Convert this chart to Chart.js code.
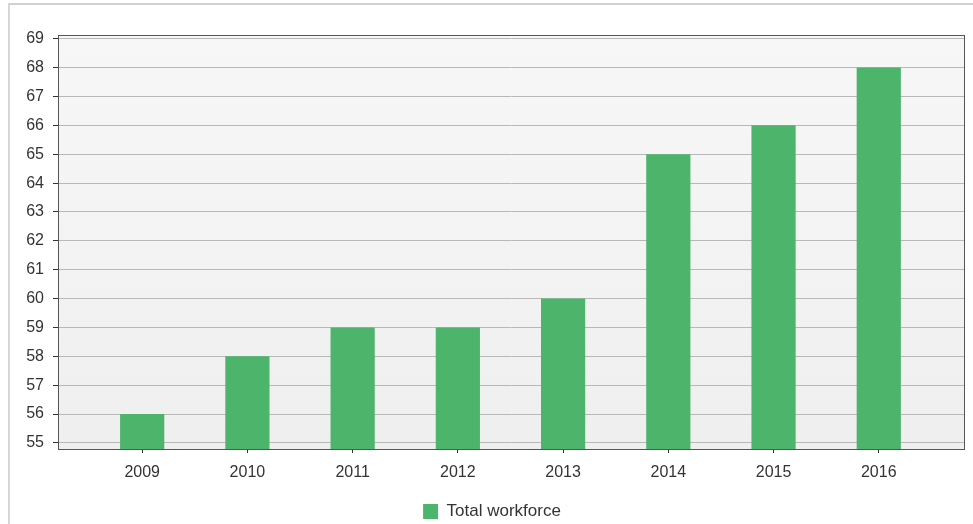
<!DOCTYPE html>
<html>
<head>
<meta charset="utf-8">
<script src="https://cdn.jsdelivr.net/npm/chart.js@4/dist/chart.umd.min.js"></script>
<style>
  html, body { margin: 0; padding: 0; background: #fff; overflow: hidden; }
  #frame { position: absolute; left: 8px; top: 3px; width: 980px; height: 540px;
           border-left: 2px solid #d4d8d6; border-top: 2px solid #d0d0d0; }
  #wrap { position: absolute; left: 0; top: 0; width: 973px; height: 530px; }
</style>
</head>
<body>
<div id="frame"></div>
<div id="wrap"><canvas id="workforceChart"></canvas></div>
<script>
// chart data
const years = ['2009', '2010', '2011', '2012', '2013', '2014', '2015', '2016'];
const workforce = [56, 58, 59, 59, 60, 65, 66, 68];
const yTicks = [55, 56, 57, 58, 59, 60, 61, 62, 63, 64, 65, 66, 67, 68, 69];

const green = '#4cb46b';
const font = 'Liberation Sans, Arial, sans-serif';

// plot background + frame around the plot area
const plotFrame = {
    id: 'plotFrame',
    beforeDraw(chart) {
        const { ctx, chartArea: a } = chart;
        ctx.save();
        const g = ctx.createLinearGradient(0, a.top, 0, a.bottom);
        g.addColorStop(0, '#f7f7f7');
        g.addColorStop(1, '#efefef');
        ctx.fillStyle = g;
        ctx.fillRect(a.left, a.top, a.right - a.left, a.bottom - a.top);
        ctx.restore();
    },
    afterDraw(chart) {
        const { ctx, chartArea: a } = chart;
        ctx.save();
        ctx.strokeStyle = '#555';
        ctx.lineWidth = 1;
        ctx.strokeRect(a.left + 0.5, a.top + 0.5, a.right - a.left, a.bottom - a.top);
        ctx.restore();
    }
};

const ctx = document.getElementById('workforceChart');
new Chart(ctx.getContext('2d'), {
    type: 'bar',
    data: {
        datasets: [{
            label: 'Total workforce',
            data: workforce.map((v, i) => ({ x: i, y: v })),
            backgroundColor: green,
            borderColor: green,
            borderWidth: 0,
            categoryPercentage: 1,
            barPercentage: 0.42
        }]
    },
    options: {
        responsive: true,
        maintainAspectRatio: false,
        animation: false,
        layout: { padding: { top: 35, right: 9, left: 20, bottom: 0 } },
        plugins: {
            tooltip: { enabled: false },
            legend: {
                position: 'bottom',
                labels: {
                    color: '#333',
                    font: { family: font, size: 17 },
                    boxWidth: 15,
                    boxHeight: 15,
                    padding: 0
                }
            }
        },
        scales: {
            x: {
                type: 'linear',
                offset: false,
                min: -0.8,
                max: 7.81,
                afterBuildTicks: s => { s.ticks = years.map((y, i) => ({ value: i })); },
                afterFit: s => { s.height = 54; },
                grid: { offset: false, drawOnChartArea: false, drawTicks: true, tickLength: 4, tickColor: '#333' },
                border: { color: '#333', width: 1 },
                ticks: {
                    color: '#333',
                    padding: 10,
                    maxRotation: 0,
                    font: { family: font, size: 16 },
                    callback: v => years[v]
                }
            },
            y: {
                min: 54.79,
                max: 69.13,
                afterBuildTicks: s => { s.ticks = yTicks.map(v => ({ value: v })); },
                afterFit: s => { s.width = 38; },
                grid: { color: '#b8b8b8', tickLength: 5, tickColor: '#333' },
                border: { color: '#333', width: 1 },
                ticks: {
                    color: '#333',
                    padding: 9,
                    font: { family: font, size: 16 }
                }
            }
        }
    },
    plugins: [plotFrame]
});
</script>
</body>
</html>
